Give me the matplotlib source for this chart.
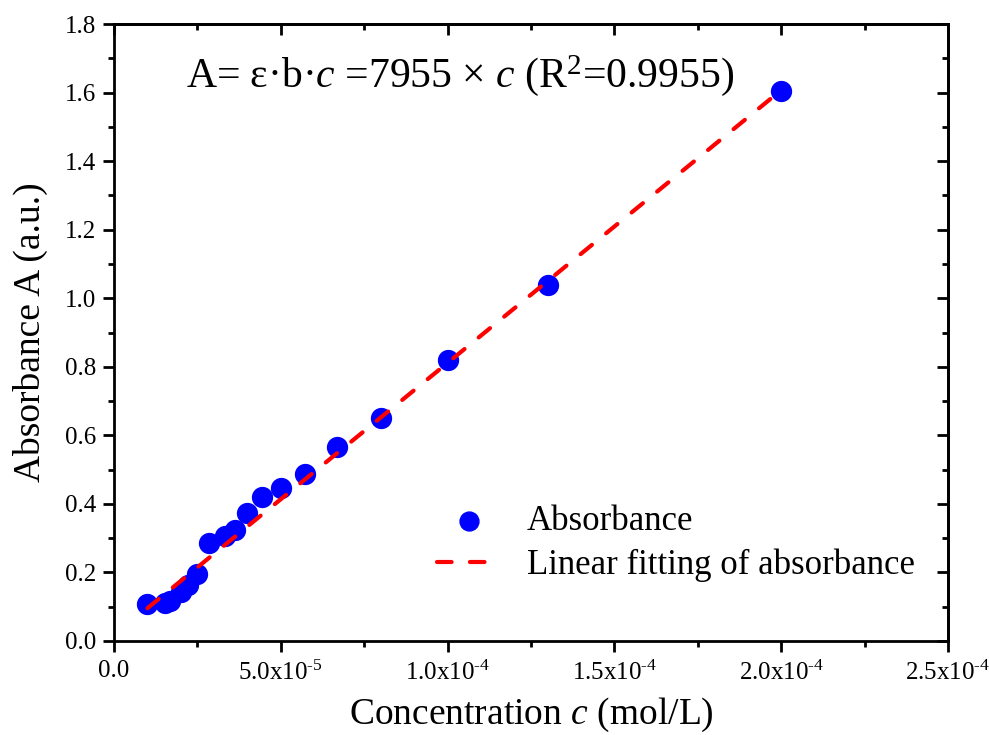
import matplotlib.pyplot as plt
from matplotlib.ticker import MultipleLocator, FixedLocator, FixedFormatter

plt.rcParams['font.family'] = ['Liberation Serif', 'DejaVu Serif']
plt.rcParams['mathtext.fontset'] = 'custom'
plt.rcParams['mathtext.rm'] = 'Liberation Serif'
plt.rcParams['mathtext.it'] = 'Liberation Serif:italic'

# measured points (concentration in mol/L, absorbance)
conc = [1.0e-5, 1.54e-5, 1.67e-5, 2.0e-5, 2.22e-5, 2.5e-5, 2.86e-5, 3.33e-5,
        3.64e-5, 4.0e-5, 4.44e-5, 5.0e-5, 5.71e-5, 6.67e-5, 8.0e-5, 1.0e-4,
        1.30e-4, 2.0e-4]
absorb = [0.108, 0.112, 0.117, 0.143, 0.163, 0.195, 0.287, 0.305,
          0.325, 0.373, 0.420, 0.446, 0.488, 0.567, 0.650, 0.820,
          1.038, 1.605]

# fit line parameters
slope = 7955
intercept = 0.016

xticks = [0, 5e-5, 1e-4, 1.5e-4, 2e-4, 2.5e-4]
xticklabels = ['0.0', '5.0x10$^{\u20105}$', '1.0x10$^{\u20104}$', '1.5x10$^{\u20104}$',
               '2.0x10$^{\u20104}$', '2.5x10$^{\u20104}$']

fig = plt.figure(figsize=(9.89, 7.35), dpi=100)
ax = fig.add_axes([0.1153, 0.1279, 0.8432, 0.8394])

ax.scatter(conc, absorb, s=205, color='#0000ff', zorder=2, label='Absorbance')
fit_x = [min(conc), max(conc)]
fit_y = [slope * c + intercept for c in fit_x]
ax.plot(fit_x, fit_y, color='#ff0000', lw=3, ls=(0, (3.5, 4.4)),
        dash_capstyle='round', zorder=3, label='Linear fitting of absorbance')

ax.set_xlim(0, 2.5e-4)
ax.set_ylim(0, 1.8)
ax.xaxis.set_major_locator(FixedLocator(xticks))
ax.xaxis.set_major_formatter(FixedFormatter(xticklabels))
ax.xaxis.set_minor_locator(MultipleLocator(2.5e-5))
ax.yaxis.set_major_locator(MultipleLocator(0.2))
ax.yaxis.set_minor_locator(MultipleLocator(0.1))
ax.yaxis.set_major_formatter(plt.FormatStrFormatter('%.1f'))

lw_ax = 2.0
for s in ax.spines.values():
    s.set_linewidth(lw_ax)
ax.tick_params(which='both', direction='out', width=lw_ax, labelsize=18,
               top=False, right=False)
ax.tick_params(which='major', length=8)
ax.tick_params(which='minor', length=4)
ax.tick_params(axis='x', pad=6)
ax.tick_params(axis='y', pad=5)

# inward mirror ticks on top and right
axt = ax.secondary_xaxis('top')
axt.xaxis.set_major_locator(FixedLocator(xticks))
axt.xaxis.set_minor_locator(MultipleLocator(2.5e-5))
axt.tick_params(which='both', direction='in', width=lw_ax, labeltop=False)
axt.tick_params(which='major', length=8)
axt.tick_params(which='minor', length=4)
axr = ax.secondary_yaxis('right')
axr.yaxis.set_major_locator(MultipleLocator(0.2))
axr.yaxis.set_minor_locator(MultipleLocator(0.1))
axr.tick_params(which='both', direction='in', width=lw_ax, labelright=False)
axr.tick_params(which='major', length=8)
axr.tick_params(which='minor', length=4)
for sa in (axt, axr):
    for s in sa.spines.values():
        s.set_linewidth(lw_ax)

ax.set_xlabel(r'Concentration $\mathit{c}$ (mol/L)', fontsize=27, labelpad=8)
ax.set_ylabel('Absorbance A (a.u.)', fontsize=27, labelpad=12)

ax.text(0.086, 0.917, r'A= ε·b·$\mathit{c}$ =7955 × $\mathit{c}$ (R$^2$=0.9955)',
        transform=ax.transAxes, fontsize=30, va='center', ha='left')

ax.legend(loc='center left', bbox_to_anchor=(0.387, 0.158), frameon=False,
          fontsize=25, handlelength=1.87, handletextpad=0.72, labelspacing=0.3,
          borderpad=0, borderaxespad=0, scatterpoints=1, markerscale=0.95)

fig.savefig('out.png', dpi=100)
